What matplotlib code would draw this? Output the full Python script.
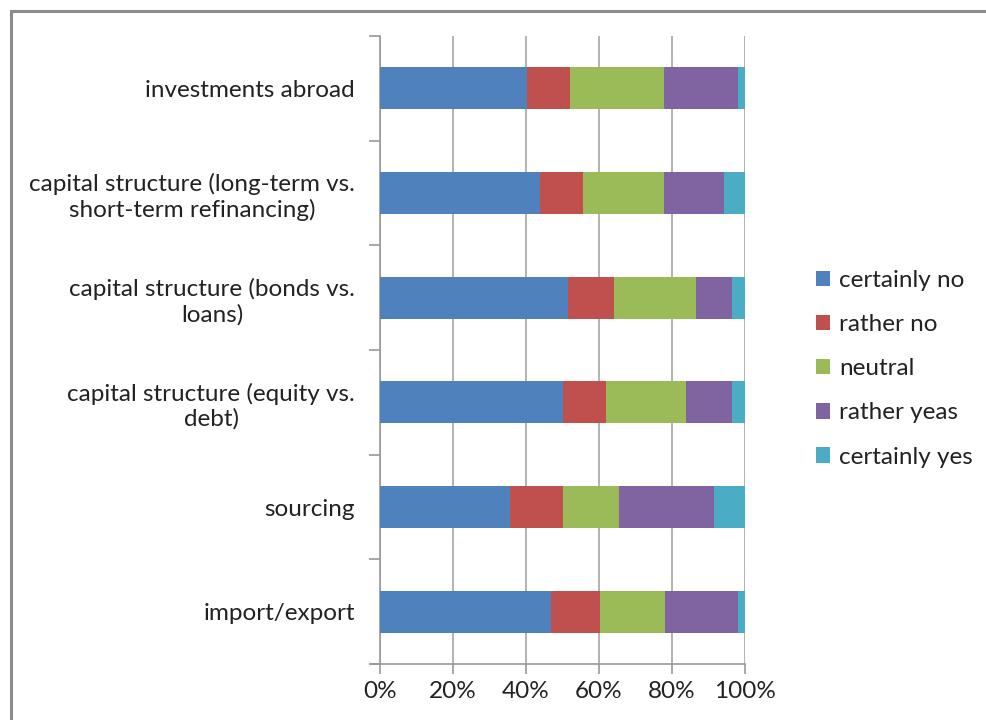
import matplotlib
matplotlib.use('Agg')
from matplotlib import pyplot as plt
from matplotlib.patches import Rectangle
import numpy as np

plt.rcParams['font.family'] = ['Lato', 'DejaVu Sans']

categories = ['import/export',
              'sourcing',
              'capital structure (equity vs.\ndebt)',
              'capital structure (bonds vs.\nloans)',
              'capital structure (long-term vs.\nshort-term refinancing)',
              'investments abroad']

series = ['certainly no', 'rather no', 'neutral', 'rather yeas', 'certainly yes']

certainly_no = [46.8, 35.5, 50.0, 51.4, 43.8, 40.3]
rather_no = [13.5, 14.5, 11.8, 12.7, 11.7, 11.8]
neutral = [17.9, 15.5, 21.9, 22.4, 22.4, 25.8]
rather_yeas = [20.0, 26.1, 12.7, 9.9, 16.4, 20.3]
certainly_yes = [1.8, 8.4, 3.6, 3.6, 5.7, 1.8]

colors = ['#4F81BD', '#C0504D', '#9BBB59', '#8064A2', '#4BACC6']

fs = 17.5

fig = plt.figure(figsize=(9.87, 7.2), dpi=100)
ax = fig.add_axes([380 / 987, 1 - 664 / 720, 365 / 987, 628 / 720])

# chart frame
fig.patches.append(Rectangle((11 / 987, -0.05), 1.2, 1.05 - 11 / 720,
                             transform=fig.transFigure, fill=False,
                             edgecolor='#8c8c8c', linewidth=2.2))

y = np.arange(len(categories))
left = np.zeros(len(categories))
for vals, name, c in zip([certainly_no, rather_no, neutral, rather_yeas, certainly_yes],
                         series, colors):
    ax.barh(y, vals, left=left, height=0.4, color=c, label=name, zorder=3)
    left = left + np.array(vals)

ax.set_xlim(0, 100)
ax.set_ylim(-0.5, len(categories) - 0.5)
ax.set_xticks(np.arange(0, 101, 20))
ax.set_xticklabels(['%d%%' % v for v in range(0, 101, 20)], fontsize=fs, color='#222222')
ax.grid(axis='x', color='#a6a6a6', linewidth=1.2, zorder=0)

ax.set_yticks(y)
ax.set_yticklabels(categories, fontsize=fs, color='#222222')
for lab in ax.get_yticklabels():
    lab.set_multialignment('center')
    lab.set_linespacing(1.22)
ax.set_yticks(np.arange(-0.5, len(categories)), minor=True)
ax.tick_params(axis='y', which='major', length=0, pad=18)
ax.tick_params(axis='y', which='minor', length=8, color='#9a9a9a', width=1.2)
ax.tick_params(axis='x', length=7, color='#9a9a9a', width=1.2, pad=5)

for side in ['top', 'right']:
    ax.spines[side].set_visible(False)
for side in ['left', 'bottom']:
    ax.spines[side].set_color('#9a9a9a')
    ax.spines[side].set_linewidth(1.2)
ax.spines['bottom'].set_bounds(-2.5, 100)
ax.spines['bottom'].set_clip_on(False)

ax.legend(loc='center left', bbox_to_anchor=(1.134, 0.47), frameon=False,
          fontsize=fs, handlelength=0.6, handleheight=0.6, handletextpad=0.35,
          labelspacing=0.95, labelcolor='#222222')

fig.savefig('out.png', dpi=100)
